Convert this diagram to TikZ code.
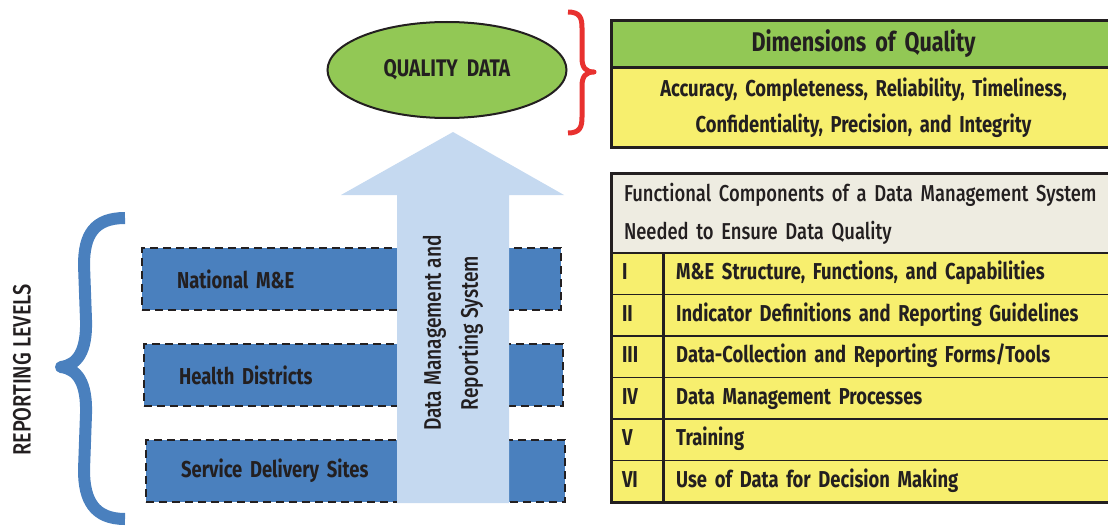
\documentclass[tikz,border=0pt]{standalone}
\usepackage{fontspec}
\setmainfont{Fira Sans}[FakeStretch=0.8, UprightFont={* Medium}, BoldFont={* Bold}]
\usetikzlibrary{shapes.geometric, positioning}
\definecolor{ink}{HTML}{231F20}
\definecolor{qgreen}{HTML}{92C855}
\definecolor{qyellow}{HTML}{F7EF6E}
\definecolor{qbeige}{HTML}{EEECE1}
\definecolor{lvlblue}{HTML}{4A80BE}
\definecolor{sysblue}{HTML}{C5D9F0}
\definecolor{bracered}{HTML}{E8312F}
\newcommand{\cellfont}{\fontsize{23}{36}\selectfont\bfseries}
\tikzstyle{level} = [rectangle, draw=ink, dash pattern=on 8pt off 5pt, line width=2.2pt,
    fill=lvlblue, minimum width=419pt, minimum height=62pt, text width=349pt,
    inner xsep=35pt, align=left, anchor=west, text=ink, font=\cellfont]
\tikzstyle{numcell} = [rectangle, draw=ink, line width=1.2pt, fill=qyellow, minimum width=51pt,
    minimum height=41.5pt, text width=31pt, inner xsep=10pt, inner ysep=0pt, align=left,
    text height=17pt, text depth=5pt, text=ink, font=\cellfont]
\tikzstyle{compcell} = [numcell, minimum width=452pt, text width=428pt, inner xsep=12pt]
\tikzstyle{dimcell} = [rectangle, draw=ink, line width=1.2pt, minimum width=503pt,
    text width=479pt, inner xsep=12pt, inner ysep=0pt, align=center, text=ink]
\tikzstyle{frame} = [draw=ink, line width=3pt]
\tikzstyle{brace} = [draw, line cap=butt, line join=round]

\begin{document}
\begin{tikzpicture}[x=1pt, y=-1pt]
        \useasboundingbox (0,0) rectangle (1108,527);
        % Place nodes
        \node [level] (national) at (141,279) {National M\&E};
        \node [level] (districts) at (143,375) {Health Districts};
        \node [level] (sites) at (145,471) {Service Delivery Sites};
        % System arrow
        \fill [sysblue] (397,503) -- (397,195) -- (341,195) -- (453,132) -- (564,195)
            -- (509,195) -- (509,503) -- cycle;
        \node [rotate=90, align=center, text=ink, font=\fontsize{24}{37}\selectfont]
            (system) at (453,333) {Data Management and\\Reporting System};
        \node [ellipse, draw=ink, line width=2pt, fill=qgreen, minimum width=239pt,
            minimum height=96pt, text=ink, font=\fontsize{24}{28}\selectfont\bfseries]
            (quality) at (447,70) {QUALITY~~DATA};
        \node [rotate=90, text=ink, font=\fontsize{25}{28}\selectfont]
            (levels) at (22,370) {REPORTING LEVELS};
        % Dimensions table
        \node [dimcell, fill=qgreen, minimum height=46pt, font=\fontsize{27}{30}\selectfont\bfseries]
            (dimtitle) at (863.5,44) {Dimensions of Quality};
        \node [dimcell, fill=qyellow, minimum height=79pt, below=0pt of dimtitle, font=\cellfont]
            (dimbody) {Accuracy, Completeness, Reliability, Timeliness,\\Confidentiality, Precision, and Integrity};
        \path [frame] (dimtitle.north west) rectangle (dimbody.south east);
        % Components table
        \node [dimcell, fill=qbeige, minimum height=79pt, align=left,
            font=\fontsize{23}{38}\selectfont] (comphead) at (863.5,213.5)
            {Functional Components of a Data Management System\\Needed to Ensure Data Quality};
        \foreach \num/\txt [count=\i] in {I/{M\&E Structure, Functions, and Capabilities},
            II/{Indicator Definitions and Reporting Guidelines},
            III/{Data-Collection and Reporting Forms/Tools},
            IV/{Data Management Processes}, V/{Training},
            VI/{Use of Data for Decision Making}} {
            \node [numcell] (num\i) at (637.5,{232.25+41.5*\i}) {\num};
            \node [compcell, right=0pt of num\i] (comp\i) {\txt};
        }
        \path [frame] (comphead.north west) rectangle (comp6.south east);
        % Braces
        \path [brace, draw=bracered, line width=5pt] (568,12) .. controls (580,12) and (582,18) .. (582,28)
            -- (582,58) .. controls (582,68) and (586,72) .. (594,72)
            .. controls (586,72) and (582,76) .. (582,86) -- (582,117)
            .. controls (582,127) and (580,133) .. (568,133);
        \path [brace, draw=lvlblue, line width=12pt] (125,218) .. controls (94,218) and (84,235) .. (84,265)
            -- (86,320) .. controls (87,352) and (77,365) .. (61,367)
            .. controls (77,369) and (87,382) .. (86,414) -- (84,470)
            .. controls (84,500) and (94,519) .. (125,519);
    \end{tikzpicture}
\end{document}
